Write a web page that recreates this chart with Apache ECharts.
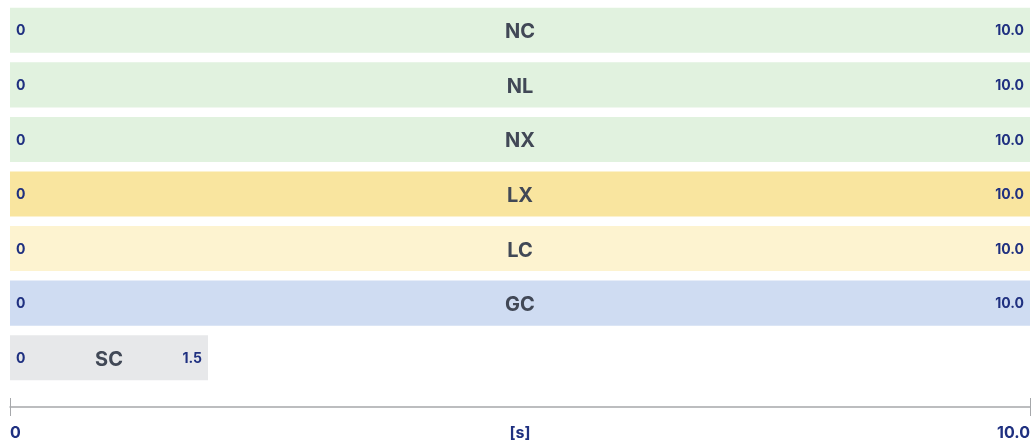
<!DOCTYPE html>
<html>
<head>
<meta charset="utf-8">
<script src="https://cdn.jsdelivr.net/npm/echarts@6/dist/echarts.min.js"></script>
<style>
  html, body { margin: 0; padding: 0; background: #fff; }
  #chart { width: 1032px; height: 441px; }
</style>
</head>
<body>
<div id="chart"></div>
<script>
// rows top to bottom
var categories = ['NC', 'NL', 'NX', 'LX', 'LC', 'GC', 'SC'];
var startValues = [0, 0, 0, 0, 0, 0, 0];
var endValues = [10.0, 10.0, 10.0, 10.0, 10.0, 10.0, 1.5];
var axisMin = 0;
var axisMax = 10;
var axisUnit = '[s]';

var rowColors = ['#e1f2df', '#e1f2df', '#e1f2df', '#f9e59f', '#fdf3d0', '#cfdcf2', '#e7e8ea'];
var numColor = '#1f3080';
var nameColor = '#414856';
var minBarPx = 198; // short bars keep room for their labels

var chartDom = document.getElementById('chart');
var myChart = echarts.init(chartDom);

var seriesData = categories.map(function (c, i) {
  return { value: [startValues[i], endValues[i], i] };
});

function renderBar(params, api) {
  var idx = api.value(2);
  var p0 = api.coord([api.value(0), idx]);
  var p1 = api.coord([api.value(1), idx]);
  var h = api.size([0, 1])[1] * 0.826;
  var w = Math.max(p1[0] - p0[0], minBarPx);
  var x = p0[0];
  var y = p0[1] - h / 2;
  var fmt = function (v) { return v === 0 ? '0' : v.toFixed(1); };
  return {
    type: 'group',
    children: [
      {
        type: 'rect',
        shape: { x: x, y: y, width: w, height: h },
        style: { fill: rowColors[idx] }
      },
      {
        type: 'text',
        x: x + 6, y: p0[1] + 1,
        style: {
          text: fmt(api.value(0)), fill: numColor,
          font: 'bold 14px Inter', align: 'left', verticalAlign: 'middle'
        }
      },
      {
        type: 'text',
        x: x + w / 2, y: p0[1] + 2,
        style: {
          text: categories[idx], fill: nameColor,
          font: 'bold 20px Inter', align: 'center', verticalAlign: 'middle'
        }
      },
      {
        type: 'text',
        x: x + w - 6, y: p0[1] + 1,
        style: {
          text: fmt(api.value(1)), fill: numColor,
          font: 'bold 14px Inter', align: 'right', verticalAlign: 'middle'
        }
      }
    ]
  };
}

var option = {
  animation: false,
  grid: {
    left: 10,
    right: 2,
    top: 3,
    bottom: 56,
    containLabel: false,
    outerBoundsMode: 'none'
  },
  xAxis: [
    {
      type: 'value',
      min: axisMin,
      max: axisMax,
      interval: 10,
      offset: 22,
      splitLine: { show: false },
      axisLine: { show: true, lineStyle: { color: '#a6a8ab', width: 1.5 } },
      axisTick: { show: true, inside: true, length: 9, lineStyle: { color: '#a6a8ab' } },
      axisLabel: {
        show: true,
        margin: 18,
        color: numColor,
        fontFamily: 'Inter',
        fontWeight: 'bold',
        fontSize: 16,
        alignMinLabel: 'left',
        alignMaxLabel: 'right',
        formatter: function (v) { return v === 0 ? '0' : v.toFixed(1); }
      },
      name: axisUnit,
      nameLocation: 'middle',
      nameGap: 18,
      nameMoveOverlap: false,
      nameTextStyle: {
        color: numColor, fontFamily: 'Inter', fontWeight: 'bold', fontSize: 16,
        verticalAlign: 'top'
      }
    },
    {
      type: 'value',
      min: axisMin,
      max: axisMax,
      interval: 10,
      offset: 22,
      position: 'bottom',
      splitLine: { show: false },
      axisLine: { show: false },
      axisTick: { show: true, inside: false, length: 9, lineStyle: { color: '#a6a8ab' } },
      axisLabel: { show: false }
    }
  ],
  yAxis: {
    type: 'category',
    data: categories,
    inverse: true,
    show: false
  },
  series: [
    {
      type: 'custom',
      renderItem: renderBar,
      encode: { x: [0, 1], y: 2 },
      data: seriesData
    }
  ]
};
option && myChart.setOption(option);
</script>
</body>
</html>
